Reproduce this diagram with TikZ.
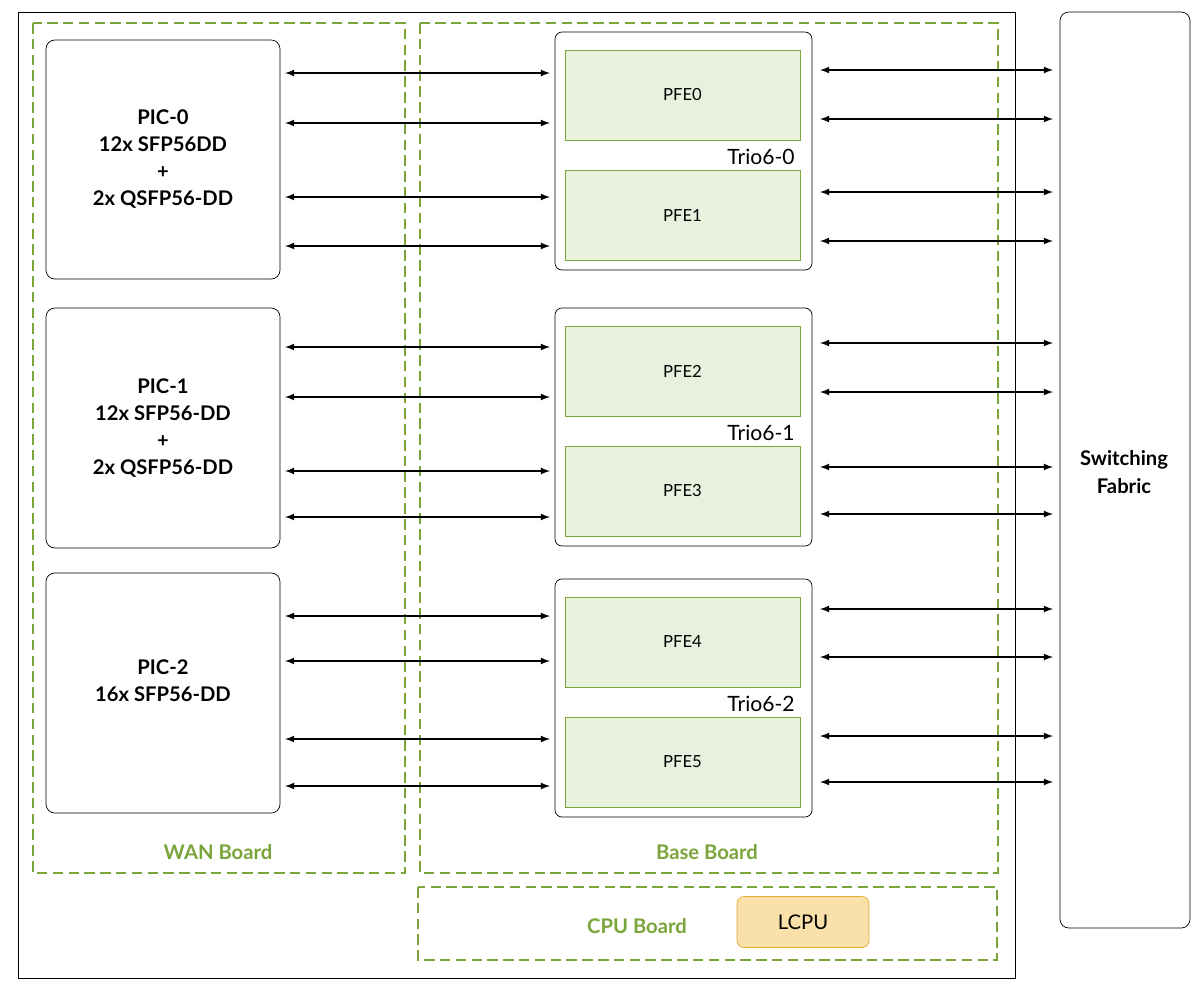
\documentclass[tikz,border=0pt]{standalone}
\usepackage{fontspec}
\setmainfont{Lato}
\usetikzlibrary{arrows,positioning,calc}
\definecolor{boardgreen}{RGB}{122,165,58}
\definecolor{pfefill}{RGB}{232,240,222}
\definecolor{cpufill}{RGB}{250,225,170}
\definecolor{cpuedge}{RGB}{230,170,50}

\begin{document}
\begin{tikzpicture}[
        x=0.02cm, y=-0.02cm,
        % boards are dashed green frames, cards are white rounded boxes
        board/.style={draw=boardgreen, dash pattern=on 6pt off 3pt, line width=0.9pt},
        boardlabel/.style={text=boardgreen, font=\bfseries\fontsize{11.5}{13}\selectfont},
        card/.style={rectangle, rounded corners=5pt, draw, thin, align=center, font=\bfseries\fontsize{11.5}{15.5}\selectfont},
        pfe/.style={rectangle, draw=boardgreen, fill=pfefill, minimum width=4.7cm, minimum height=1.8cm, font=\fontsize{9.5}{11}\selectfont},
        link/.style={latex-latex, thick}
    ]
        \useasboundingbox (0,0) rectangle (1200,985);
        \draw (18,12) rectangle (1015,978);

        % Boards
        \draw[board] (33,23) rectangle (405,873);
        \draw[board] (420,23) rectangle (998,873);
        \draw[board] (418,887) rectangle (997,960);
        \node[boardlabel] (wanlabel) at (218,852) {WAN Board};
        \node[boardlabel] (baselabel) at (707,852) {Base Board};
        \node[boardlabel] (cpulabel) at (637,926) {CPU Board};
        \node[rectangle, rounded corners=4pt, draw=cpuedge, fill=cpufill, minimum width=2.64cm, minimum height=1.02cm,
            font=\fontsize{11.5}{13}\selectfont] (lcpu) at (803,922) {LCPU};

        % Switching fabric
        \draw[rounded corners=5pt] (1060,12) rectangle (1190,928);
        \node[card, draw=none] (fabric) at (1124,472) {Switching\\Fabric};

        % PICs
        \draw[rounded corners=5pt] (46,40) rectangle (280,279);
        \node[card, draw=none] (pic0) at (163,159) {PIC-0\\12x SFP56DD\\+\\2x QSFP56-DD};
        \draw[rounded corners=5pt] (46,308) rectangle (280,548);
        \node[card, draw=none] (pic1) at (163,428) {PIC-1\\12x SFP56-DD\\+\\2x QSFP56-DD};
        \draw[rounded corners=5pt] (46,573) rectangle (280,813);
        \node[card, draw=none] (pic2) at (163,681) {PIC-2\\16x SFP56-DD};

        % Trio chips with their PFEs
        \foreach \t/\top/\a/\b in {0/32/0/1, 1/308/2/3, 2/579/4/5} {
            \draw[rounded corners=4pt] (555,\top) rectangle (812,\top+238);
            \node[pfe] (pfe\a) at (682.5,\top+63) {PFE\a};
            \node[pfe] (pfe\b) at (682.5,\top+183) {PFE\b};
            \node[font=\fontsize{12}{14}\selectfont] (trio\t) at (761,\top+125) {Trio6-\t};
        }

        % Links PIC <-> Trio and Trio <-> fabric
        \foreach \y in {73,123,197,246,347,397,471,517,616,661,739,786}
            \draw[link] (285,\y) -- (550,\y);
        \foreach \y in {70,119,192,241,343,392,467,514,609,657,736,782}
            \draw[link] (820,\y) -- (1053,\y);
    \end{tikzpicture}
\end{document}
